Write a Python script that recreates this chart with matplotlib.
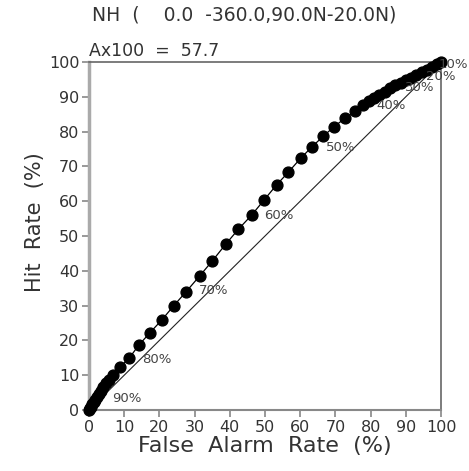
import numpy as np
import matplotlib.pyplot as plt

# ROC points (false alarm rate %, hit rate %)
far = [0.0, 0.3, 0.6, 0.9, 1.3, 1.7, 2.2, 2.7, 3.3, 4.0, 4.8, 5.7, 6.9, 8.8,
       11.4, 14.2, 17.3, 20.7, 24.1, 27.6, 31.5, 35.0, 38.8, 42.4, 46.2, 49.7,
       53.3, 56.6, 60.1, 63.4, 66.6, 69.6, 72.7, 75.6, 77.9, 79.5, 81.0, 82.5,
       84.0, 85.5, 87.0, 88.5, 90.0, 91.5, 93.0, 94.5, 96.0, 97.5, 99.0, 100.0]
hr = [0.0, 0.5, 1.0, 1.6, 2.3, 3.0, 3.8, 4.7, 5.6, 6.6, 7.7, 8.6, 10.0, 12.3,
      14.9, 18.7, 22.2, 25.9, 30.0, 34.0, 38.6, 42.8, 47.6, 51.9, 56.0, 60.3,
      64.7, 68.3, 72.3, 75.7, 78.7, 81.4, 83.8, 85.9, 87.6, 88.7, 89.7, 90.6,
      91.5, 92.5, 93.3, 94.1, 94.8, 95.5, 96.2, 97.0, 97.8, 98.7, 99.5, 100.0]

# probability threshold labels and where they sit
prob_labels = ['90%', '80%', '70%', '60%', '50%', '40%', '30%', '20%', '10%']
lab_x = [10.8, 19.3, 35.5, 54.0, 71.6, 85.8, 94.0, 99.8, 103.6]
lab_y = [3.4, 14.4, 34.2, 56.0, 75.3, 87.6, 92.6, 95.8, 99.2]

region = "NH  (    0.0  -360.0,90.0N-20.0N)"
score = "Ax100  =  57.7"

txt = '#333333'
grey = '#666666'

fig = plt.figure(figsize=(4.69, 4.71), dpi=100)
ax = fig.add_axes([0.1898, 0.1295, 0.7505, 0.7389])

ax.plot([0, 100], [0, 100], color='#222222', lw=0.8)
ax.plot(far, hr, color='black', lw=0.9, marker='o', ms=7.8,
        mfc='black', mec='black', clip_on=False, zorder=3)

for lab, x, y in zip(prob_labels, lab_x, lab_y):
    ax.text(x, y, lab, fontsize=9.5, color='#444444', ha='center', va='center',
            clip_on=False, zorder=4)

ax.set_xlim(0, 100)
ax.set_ylim(0, 100)
ax.set_xticks(range(0, 101, 10))
ax.set_yticks(range(0, 101, 10))
ax.tick_params(direction='out', length=5, width=1.2, color='#888888',
               labelsize=11.5, labelcolor=txt, pad=2)

ax.spines['left'].set_color('#aaaaaa')
ax.spines['left'].set_linewidth(2.5)
ax.spines['bottom'].set_color('#888888')
ax.spines['bottom'].set_linewidth(1.5)
for s in ['top', 'right']:
    ax.spines[s].set_color(grey)
    ax.spines[s].set_linewidth(1.2)

ax.set_xlabel("False  Alarm  Rate  (%)", fontsize=16, color=txt, labelpad=1)
ax.set_ylabel("Hit  Rate  (%)", fontsize=15, color=txt)
ax.yaxis.set_label_coords(-0.125, 0.54)

fig.text(92 / 469, 1 - 15 / 471, region, fontsize=13.5, color=txt,
         ha='left', va='center')
ax.text(0.0, 1.005, score, transform=ax.transAxes, fontsize=12.5, color=txt,
        ha='left', va='bottom')

plt.savefig('out.png', dpi=100)
